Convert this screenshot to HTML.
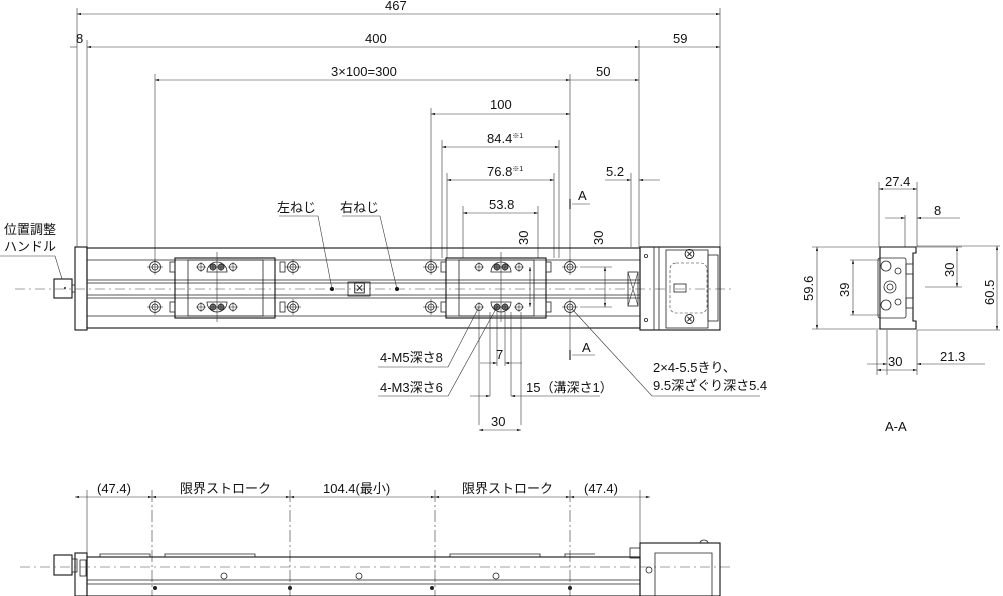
<!DOCTYPE html>
<html><head><meta charset="utf-8"><style>
html,body{margin:0;padding:0;background:#fff;}
svg{display:block;}
text{font-family:"Liberation Sans","Noto Sans CJK JP",sans-serif;font-size:13px;fill:#111;}
.l{stroke:#222;stroke-width:0.8;fill:none;}
.t{stroke:#333;stroke-width:0.6;fill:none;}
.d{stroke:#444;stroke-width:0.6;fill:none;stroke-dasharray:10 4 2 4;}
.b{stroke:#111;stroke-width:1.1;fill:none;}
</style></head><body>
<svg width="1003" height="596" viewBox="0 0 1003 596" xmlns="http://www.w3.org/2000/svg">
<defs>
<marker id="a" viewBox="0 0 10 6" refX="10" refY="3" markerWidth="7" markerHeight="4" orient="auto-start-reverse"><path d="M0,0L10,3L0,6z" fill="#222"/></marker>
<g id="hole"><circle r="5.5" class="l"/><circle r="3" class="l"/><line x1="-8" y1="0" x2="8" y2="0" class="t"/><line x1="0" y1="-8" x2="0" y2="8" class="t"/></g>
<g id="sh"><circle r="3.5" class="l"/><line x1="-5" y1="0" x2="5" y2="0" class="t"/><line x1="0" y1="-5" x2="0" y2="5" class="t"/></g>
<g id="sf"><circle r="3" fill="#777" stroke="#222" stroke-width="0.8"/><line x1="-4" y1="0" x2="4" y2="0" class="t"/><line x1="0" y1="-4" x2="0" y2="4" class="t"/></g>
</defs>

<g class="t">
<line x1="77" y1="8" x2="77" y2="247"/><line x1="720" y1="8" x2="720" y2="247"/>
<line x1="87" y1="40" x2="87" y2="247"/><line x1="639" y1="40" x2="639" y2="247"/>
<line x1="155" y1="74" x2="155" y2="262"/><line x1="570" y1="74" x2="570" y2="262"/>
<line x1="431" y1="108" x2="431" y2="262"/>
<line x1="442" y1="140" x2="442" y2="258"/><line x1="559" y1="140" x2="559" y2="258"/>
<line x1="447" y1="173" x2="447" y2="258"/><line x1="554" y1="173" x2="554" y2="258"/>
<line x1="463" y1="206" x2="463" y2="258"/><line x1="538" y1="206" x2="538" y2="258"/>
<line x1="631" y1="173" x2="631" y2="247"/>
</g>
<g class="t">
<line x1="77" y1="14" x2="720" y2="14" marker-start="url(#a)" marker-end="url(#a)"/>
<line x1="70" y1="47" x2="77" y2="47"/><line x1="87" y1="47" x2="639" y2="47" marker-start="url(#a)" marker-end="url(#a)"/>
<line x1="639" y1="47" x2="720" y2="47" marker-end="url(#a)"/>
<line x1="155" y1="80" x2="570" y2="80" marker-start="url(#a)" marker-end="url(#a)"/>
<line x1="570" y1="80" x2="639" y2="80" marker-end="url(#a)"/>
<line x1="431" y1="114" x2="570" y2="114" marker-start="url(#a)" marker-end="url(#a)"/>
<line x1="442" y1="147" x2="559" y2="147" marker-start="url(#a)" marker-end="url(#a)"/>
<line x1="447" y1="180" x2="554" y2="180" marker-start="url(#a)" marker-end="url(#a)"/>
<line x1="463" y1="213" x2="538" y2="213" marker-start="url(#a)" marker-end="url(#a)"/>
<line x1="605" y1="180" x2="631" y2="180" marker-end="url(#a)"/><line x1="639" y1="180" x2="660" y2="180" marker-start="url(#a)"/>
<line x1="530" y1="267" x2="530" y2="307" marker-start="url(#a)" marker-end="url(#a)"/>
<line x1="605" y1="267" x2="605" y2="307" marker-start="url(#a)" marker-end="url(#a)"/>
<line x1="580" y1="267" x2="612" y2="267"/><line x1="580" y1="307" x2="612" y2="307"/>
</g>
<text x="385" y="10">467</text>
<text x="76" y="43">8</text>
<text x="365" y="43">400</text>
<text x="673" y="43">59</text>
<text x="331" y="76">3×100=300</text>
<text x="596" y="76">50</text>
<text x="490" y="109">100</text>
<text x="487" y="143">84.4<tspan font-size="7" dy="-5">※1</tspan></text>
<text x="487" y="176">76.8<tspan font-size="7" dy="-5">※1</tspan></text>
<text x="489" y="209">53.8</text>
<text x="606" y="176">5.2</text>
<text transform="translate(528,245) rotate(-90)">30</text>
<text transform="translate(603,245) rotate(-90)">30</text>
<g class="b"><line x1="570" y1="199" x2="570" y2="209"/><line x1="570" y1="350" x2="570" y2="360"/></g>
<line x1="572" y1="204" x2="590" y2="204" class="t"/><line x1="572" y1="355" x2="595" y2="355" class="t"/>
<text x="578" y="200">A</text><text x="582" y="352">A</text>

<rect x="75" y="247" width="12" height="83" class="b"/>
<rect x="87" y="248" width="553" height="80" class="b"/>
<g class="l">
<line x1="87" y1="260" x2="640" y2="260"/><line x1="87" y1="316" x2="640" y2="316"/>
<line x1="87" y1="280" x2="640" y2="280"/><line x1="87" y1="283" x2="640" y2="283"/>
<line x1="87" y1="295" x2="640" y2="295"/><line x1="87" y1="298" x2="640" y2="298"/>
</g>
<line x1="15" y1="289" x2="735" y2="289" class="d"/>
<rect x="54" y="279" width="18" height="19" class="b"/><line x1="72" y1="285" x2="75" y2="285" class="l"/><line x1="72" y1="292" x2="75" y2="292" class="l"/>
<circle cx="65" cy="288" r="1" fill="#222"/>
<rect x="175" y="258" width="100" height="60" fill="#fff" class="b"/>
<rect x="188" y="260" width="75" height="56" class="l"/>
<path d="M207,272 a10,10 0 0 1 20,0z" class="l"/><path d="M207,302 a10,10 0 0 0 20,0z" class="l"/>
<use href="#sh" x="201" y="267"/><use href="#sf" x="213" y="267"/><use href="#sf" x="221" y="267"/><use href="#sh" x="233" y="267"/>
<use href="#sh" x="201" y="307"/><use href="#sf" x="213" y="307"/><use href="#sf" x="221" y="307"/><use href="#sh" x="233" y="307"/>
<line x1="217" y1="252" x2="217" y2="322" class="t"/>
<rect x="170" y="262" width="5" height="10" class="l"/><rect x="170" y="302" width="5" height="10" class="l"/>
<rect x="280" y="262" width="5" height="10" class="l"/><rect x="280" y="302" width="5" height="10" class="l"/>
<use href="#hole" x="155" y="267"/><use href="#hole" x="155" y="307"/>
<use href="#hole" x="293" y="267"/><use href="#hole" x="293" y="307"/>
<rect x="446" y="258" width="100" height="60" fill="#fff" class="b"/>
<rect x="459" y="260" width="75" height="56" class="l"/>
<path d="M491,272 a10,10 0 0 1 20,0z" class="l"/><path d="M491,302 a10,10 0 0 0 20,0z" class="l"/>
<use href="#sh" x="479" y="267"/><use href="#sf" x="497" y="267"/><use href="#sf" x="505" y="267"/><use href="#sh" x="519" y="267"/>
<use href="#sh" x="479" y="307"/><use href="#sf" x="497" y="307"/><use href="#sf" x="505" y="307"/><use href="#sh" x="519" y="307"/>
<line x1="501" y1="252" x2="501" y2="322" class="t"/>
<rect x="441" y="262" width="5" height="10" class="l"/><rect x="441" y="302" width="5" height="10" class="l"/>
<rect x="546" y="262" width="5" height="10" class="l"/><rect x="546" y="302" width="5" height="10" class="l"/>
<use href="#hole" x="431" y="267"/><use href="#hole" x="431" y="307"/>
<use href="#hole" x="570" y="267"/><use href="#hole" x="570" y="307"/>
<rect x="348" y="282" width="22" height="14" fill="#fff" class="l"/>
<text x="353" y="293" font-size="9">⊠</text>
<circle cx="332" cy="289" r="2" fill="#111"/><circle cx="397" cy="289" r="2" fill="#111"/>
<rect x="628" y="272" width="10" height="34" class="l"/><path d="M628,272L638,306M638,272L628,306" class="t"/>
<rect x="640" y="247" width="80" height="83" class="b"/>
<line x1="654" y1="247" x2="654" y2="330" class="l"/><line x1="659" y1="247" x2="659" y2="330" class="l"/>
<rect x="666" y="250" width="42" height="78" class="l"/>
<rect x="670" y="263" width="37" height="50" rx="6" class="t" stroke-dasharray="3 2"/>
<rect x="708" y="255" width="10" height="66" class="l"/>
<rect x="674" y="284" width="12" height="8" class="l"/>
<circle cx="646" cy="256" r="1.6" class="l"/><circle cx="646" cy="320" r="1.6" class="l"/>
<text x="683" y="259" font-size="8">⊗</text><text x="683" y="324" font-size="8">⊗</text>

<text x="4" y="234">位置調整</text>
<text x="4" y="251">ハンドル</text>
<polyline points="0,256 55,256 62,279" class="t"/>
<text x="277" y="212">左ねじ</text><text x="340" y="212">右ねじ</text>
<polyline points="279,216 318,216 332,289" class="t"/>
<polyline points="342,216 380,216 397,289" class="t"/>
<polyline points="378,367 448,367 479,307" class="t"/>
<polyline points="378,396 448,396 497,307" class="t"/>
<text x="380" y="362">4-M5深さ8</text>
<text x="380" y="392">4-M3深さ6</text>
<g class="t">
<line x1="479" y1="312" x2="479" y2="425"/><line x1="490" y1="312" x2="490" y2="396"/>
<line x1="497" y1="312" x2="497" y2="366"/><line x1="505" y1="312" x2="505" y2="366"/>
<line x1="511" y1="312" x2="511" y2="396"/><line x1="521" y1="312" x2="521" y2="425"/>
<line x1="480" y1="363" x2="497" y2="363" marker-end="url(#a)"/><line x1="505" y1="363" x2="522" y2="363" marker-start="url(#a)"/>
<line x1="470" y1="396" x2="490" y2="396" marker-end="url(#a)"/><line x1="511" y1="396" x2="600" y2="396" marker-start="url(#a)"/>
<line x1="479" y1="430" x2="521" y2="430" marker-start="url(#a)" marker-end="url(#a)"/>
<line x1="570" y1="312" x2="570" y2="350"/>
</g>
<text x="496" y="359">7</text>
<text x="526" y="392">15（溝深さ1）</text>
<text x="491" y="426">30</text>
<polyline points="572,309 652,396 760,396" class="t"/>
<text x="653" y="372">2×4-5.5きり、</text>
<text x="653" y="390">9.5深ざぐり深さ5.4</text>

<g class="t">
<line x1="879" y1="182" x2="879" y2="247"/><line x1="917" y1="182" x2="917" y2="247"/>
<line x1="879" y1="189" x2="917" y2="189" marker-start="url(#a)" marker-end="url(#a)"/>
<line x1="905" y1="215" x2="905" y2="247"/>
<line x1="885" y1="218" x2="905" y2="218" marker-end="url(#a)"/><line x1="917" y1="218" x2="960" y2="218" marker-start="url(#a)"/>
<line x1="812" y1="247" x2="880" y2="247"/><line x1="812" y1="329" x2="880" y2="329"/>
<line x1="817" y1="247" x2="817" y2="329" marker-start="url(#a)" marker-end="url(#a)"/>
<line x1="850" y1="260" x2="880" y2="260"/><line x1="850" y1="315" x2="880" y2="315"/>
<line x1="853" y1="260" x2="853" y2="315" marker-start="url(#a)" marker-end="url(#a)"/>
<line x1="917" y1="246" x2="1000" y2="246"/><line x1="917" y1="330" x2="1000" y2="330"/>
<line x1="997" y1="246" x2="997" y2="330" marker-start="url(#a)" marker-end="url(#a)"/>
<line x1="917" y1="247" x2="962" y2="247"/><line x1="925" y1="287" x2="962" y2="287"/>
<line x1="957" y1="247" x2="957" y2="287" marker-start="url(#a)" marker-end="url(#a)"/>
<line x1="877" y1="330" x2="877" y2="375"/><line x1="887" y1="330" x2="887" y2="375"/><line x1="917" y1="330" x2="917" y2="375"/>
<line x1="867" y1="364" x2="887" y2="364" marker-end="url(#a)"/><line x1="917" y1="364" x2="985" y2="364" marker-start="url(#a)"/>
<line x1="877" y1="370" x2="917" y2="370" marker-start="url(#a)" marker-end="url(#a)"/>
</g>
<path d="M880,247h36v6h-3v68h3v8h-36z" class="b"/>
<rect x="878" y="258" width="28" height="60" rx="2" class="l"/>
<circle cx="886" cy="266" r="5" class="l"/><circle cx="886" cy="305" r="5" class="l"/>
<circle cx="890" cy="287" r="6" class="l"/><circle cx="890" cy="287" r="3" class="l"/>
<circle cx="898" cy="271" r="3" class="l"/><circle cx="898" cy="302" r="3" class="l"/>
<rect x="906" y="264" width="7" height="10" class="l"/><rect x="906" y="298" width="7" height="10" class="l"/>
<text x="885" y="186">27.4</text>
<text x="934" y="215">8</text>
<text transform="translate(813,301) rotate(-90)">59.6</text>
<text transform="translate(849,297) rotate(-90)">39</text>
<text transform="translate(954,277) rotate(-90)">30</text>
<text transform="translate(994,305) rotate(-90)">60.5</text>
<text x="940" y="361">21.3</text>
<text x="888" y="366">30</text>
<text x="885" y="431">A-A</text>

<g class="t">
<line x1="87" y1="490" x2="87" y2="555"/><line x1="152" y1="490" x2="152" y2="596" stroke-dasharray="12 3 2 3"/>
<line x1="290" y1="490" x2="290" y2="596" stroke-dasharray="12 3 2 3"/><line x1="435" y1="490" x2="435" y2="596" stroke-dasharray="12 3 2 3"/>
<line x1="570" y1="490" x2="570" y2="596" stroke-dasharray="12 3 2 3"/><line x1="640" y1="490" x2="640" y2="545"/>
<line x1="75" y1="497" x2="152" y2="497" marker-start="url(#a)" marker-end="url(#a)"/>
<line x1="152" y1="497" x2="290" y2="497" marker-start="url(#a)" marker-end="url(#a)"/>
<line x1="290" y1="497" x2="435" y2="497" marker-start="url(#a)" marker-end="url(#a)"/>
<line x1="435" y1="497" x2="570" y2="497" marker-start="url(#a)" marker-end="url(#a)"/>
<line x1="570" y1="497" x2="650" y2="497" marker-start="url(#a)" marker-end="url(#a)"/>
</g>
<text x="97" y="493">(47.4)</text>
<text x="180" y="493">限界ストローク</text>
<text x="323" y="493">104.4(最小)</text>
<text x="462" y="493">限界ストローク</text>
<text x="584" y="493">(47.4)</text>
<rect x="75" y="553" width="12" height="43" class="b"/>
<rect x="87" y="557" width="553" height="39" class="b"/>
<line x1="87" y1="580" x2="640" y2="580" class="l"/><line x1="87" y1="584" x2="640" y2="584" class="l"/>
<rect x="80" y="560" width="6" height="16" class="l"/>
<rect x="54" y="555" width="18" height="20" class="b"/><rect x="72" y="559" width="5" height="13" class="l"/>
<line x1="20" y1="567" x2="730" y2="567" class="d"/>
<path d="M100,557v-3h50v3M165,557v-3h90v3M450,557v-3h90v3M565,557v-3h30" class="l"/>
<g fill="#222"><circle cx="155" cy="588" r="2"/><circle cx="290" cy="588" r="2"/><circle cx="432" cy="588" r="2"/><circle cx="570" cy="588" r="2"/></g>
<g class="l"><circle cx="224" cy="576" r="3"/><circle cx="359" cy="576" r="3"/><circle cx="496" cy="576" r="3"/><circle cx="649" cy="570" r="3"/></g>
<rect x="640" y="543" width="80" height="53" class="b"/><rect x="630" y="548" width="10" height="10" class="l"/>
<path d="M655,596v-43h57v43" class="l"/>
<path d="M700,543a4,3 0 0 1 8,0" class="l"/>
</svg>
</body></html>
